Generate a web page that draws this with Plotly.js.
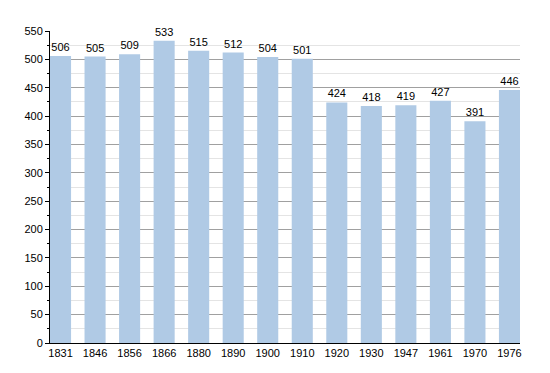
<!DOCTYPE html>
<html>
<head>
<meta charset="utf-8">
<script src="https://cdn.plot.ly/plotly-3.0.1.min.js"></script>
<style>html,body{margin:0;padding:0;background:#fff;}#chart{width:550px;height:373px;}</style>
</head>
<body>
<div id="chart"></div>
<script>
const years = ['1831','1846','1856','1866','1880','1890','1900','1910','1920','1930','1947','1961','1970','1976'];
const population = [506,505,509,533,515,512,504,501,424,418,419,427,391,446];

const trace = {
  type: 'bar',
  x: years,
  y: population,
  text: population.map(String),
  textposition: 'outside',
  cliponaxis: false,
  textfont: {family: 'Liberation Sans, Arial, sans-serif', size: 11, color: '#000'},
  marker: {color: '#b0cae5'},
  width: 0.61,
  hoverinfo: 'x+y'
};

const layout = {
  width: 550,
  height: 373,
  margin: {l: 50, r: 30, t: 31, b: 30},
  paper_bgcolor: '#fff',
  plot_bgcolor: '#fff',
  showlegend: false,
  font: {family: 'Liberation Sans, Arial, sans-serif', size: 11, color: '#000'},
  xaxis: {
    type: 'category',
    range: [-0.305, 13.305],
    showline: true,
    linecolor: '#000',
    linewidth: 1,
    ticks: '',
    showgrid: false,
    zeroline: false,
    tickfont: {size: 11, color: '#000'}
  },
  yaxis: {
    range: [0, 550],
    dtick: 50,
    tick0: 0,
    showline: true,
    linecolor: '#000',
    linewidth: 1,
    ticks: 'outside',
    ticklen: 4,
    tickcolor: '#000',
    showgrid: true,
    gridcolor: '#a0a0a0',
    gridwidth: 1,
    zeroline: false,
    tickfont: {size: 11, color: '#000'},
    minor: {dtick: 25, showgrid: true, gridcolor: '#e4e4e4', ticks: 'outside', ticklen: 2, tickcolor: '#000'}
  },
  bargap: 0.39
};

Plotly.newPlot('chart', [trace], layout, {displayModeBar: false, staticPlot: true});
</script>
</body>
</html>
